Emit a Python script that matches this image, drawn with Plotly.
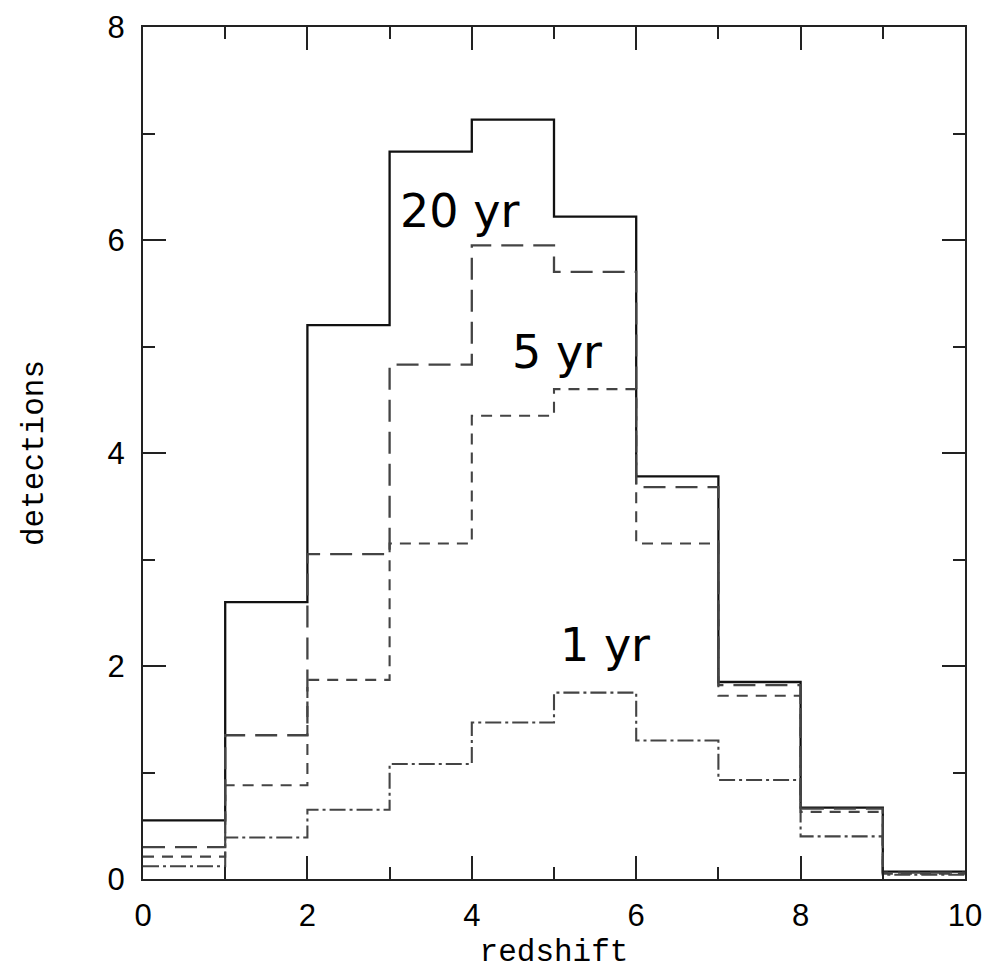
import plotly.graph_objects as go

bin_edges = [0, 1, 2, 3, 4, 5, 6, 7, 8, 9, 10]
det_20yr = [0.55, 2.60, 5.20, 6.83, 7.13, 6.22, 3.78, 1.85, 0.67, 0.07]
det_long = [0.30, 1.35, 3.05, 4.83, 5.95, 5.70, 3.68, 1.82, 0.66, 0.06]
det_5yr = [0.21, 0.88, 1.87, 3.15, 4.35, 4.60, 3.15, 1.72, 0.63, 0.05]
det_1yr = [0.12, 0.39, 0.65, 1.08, 1.47, 1.75, 1.30, 0.93, 0.40, 0.04]

labels = ["20 yr", "5 yr", "1 yr"]
label_x = [3.10, 4.46, 5.05]
label_y = [6.27, 4.95, 2.20]

series = [
    (det_20yr, "solid", "#111111", 2.3),
    (det_long, "22px,10px", "#444444", 2.3),
    (det_5yr, "11px,8px", "#444444", 2.1),
    (det_1yr, "16px,4px,3px,4px", "#444444", 2.1),
]

fig = go.Figure()
for vals, dash, color, w in series:
    fig.add_trace(go.Scatter(
        x=bin_edges, y=vals + [vals[-1]], mode="lines",
        line=dict(shape="hv", dash=dash, color=color, width=w),
        showlegend=False, hoverinfo="skip"))

for t, x, y in zip(labels, label_x, label_y):
    fig.add_annotation(x=x, y=y, text=t, showarrow=False, xanchor="left", yanchor="middle",
                       font=dict(family="DejaVu Sans", size=46, color="black"))

axis_common = dict(
    showline=True, linecolor="#222222", linewidth=2, mirror="ticks",
    ticks="inside", ticklen=23, tickwidth=2, tickcolor="#222222",
    showgrid=False, zeroline=False, automargin=False, ticklabeloverflow="allow",
    tickfont=dict(family="Liberation Sans, Arial", size=31, color="black"),
)

fig.update_xaxes(range=[0, 10], dtick=2, tick0=0, ticklabelstandoff=8,
                 minor=dict(dtick=1, ticklen=12, ticks="inside", tickwidth=2, tickcolor="#222222"),
                 title=dict(text="redshift", standoff=27,
                            font=dict(family="Liberation Mono", size=31, color="black")),
                 **axis_common)
fig.update_yaxes(range=[0, 8], dtick=2, tick0=0, ticklabelstandoff=10,
                 minor=dict(dtick=1, ticklen=12, ticks="inside", tickwidth=2, tickcolor="#222222"),
                 title=dict(text="detections", standoff=55,
                            font=dict(family="Liberation Mono", size=31, color="black")),
                 **axis_common)

fig.update_layout(
    width=977, height=962,
    margin=dict(l=135, r=20, t=19, b=91),
    paper_bgcolor="white", plot_bgcolor="white",
)

fig.write_html("out.html")
